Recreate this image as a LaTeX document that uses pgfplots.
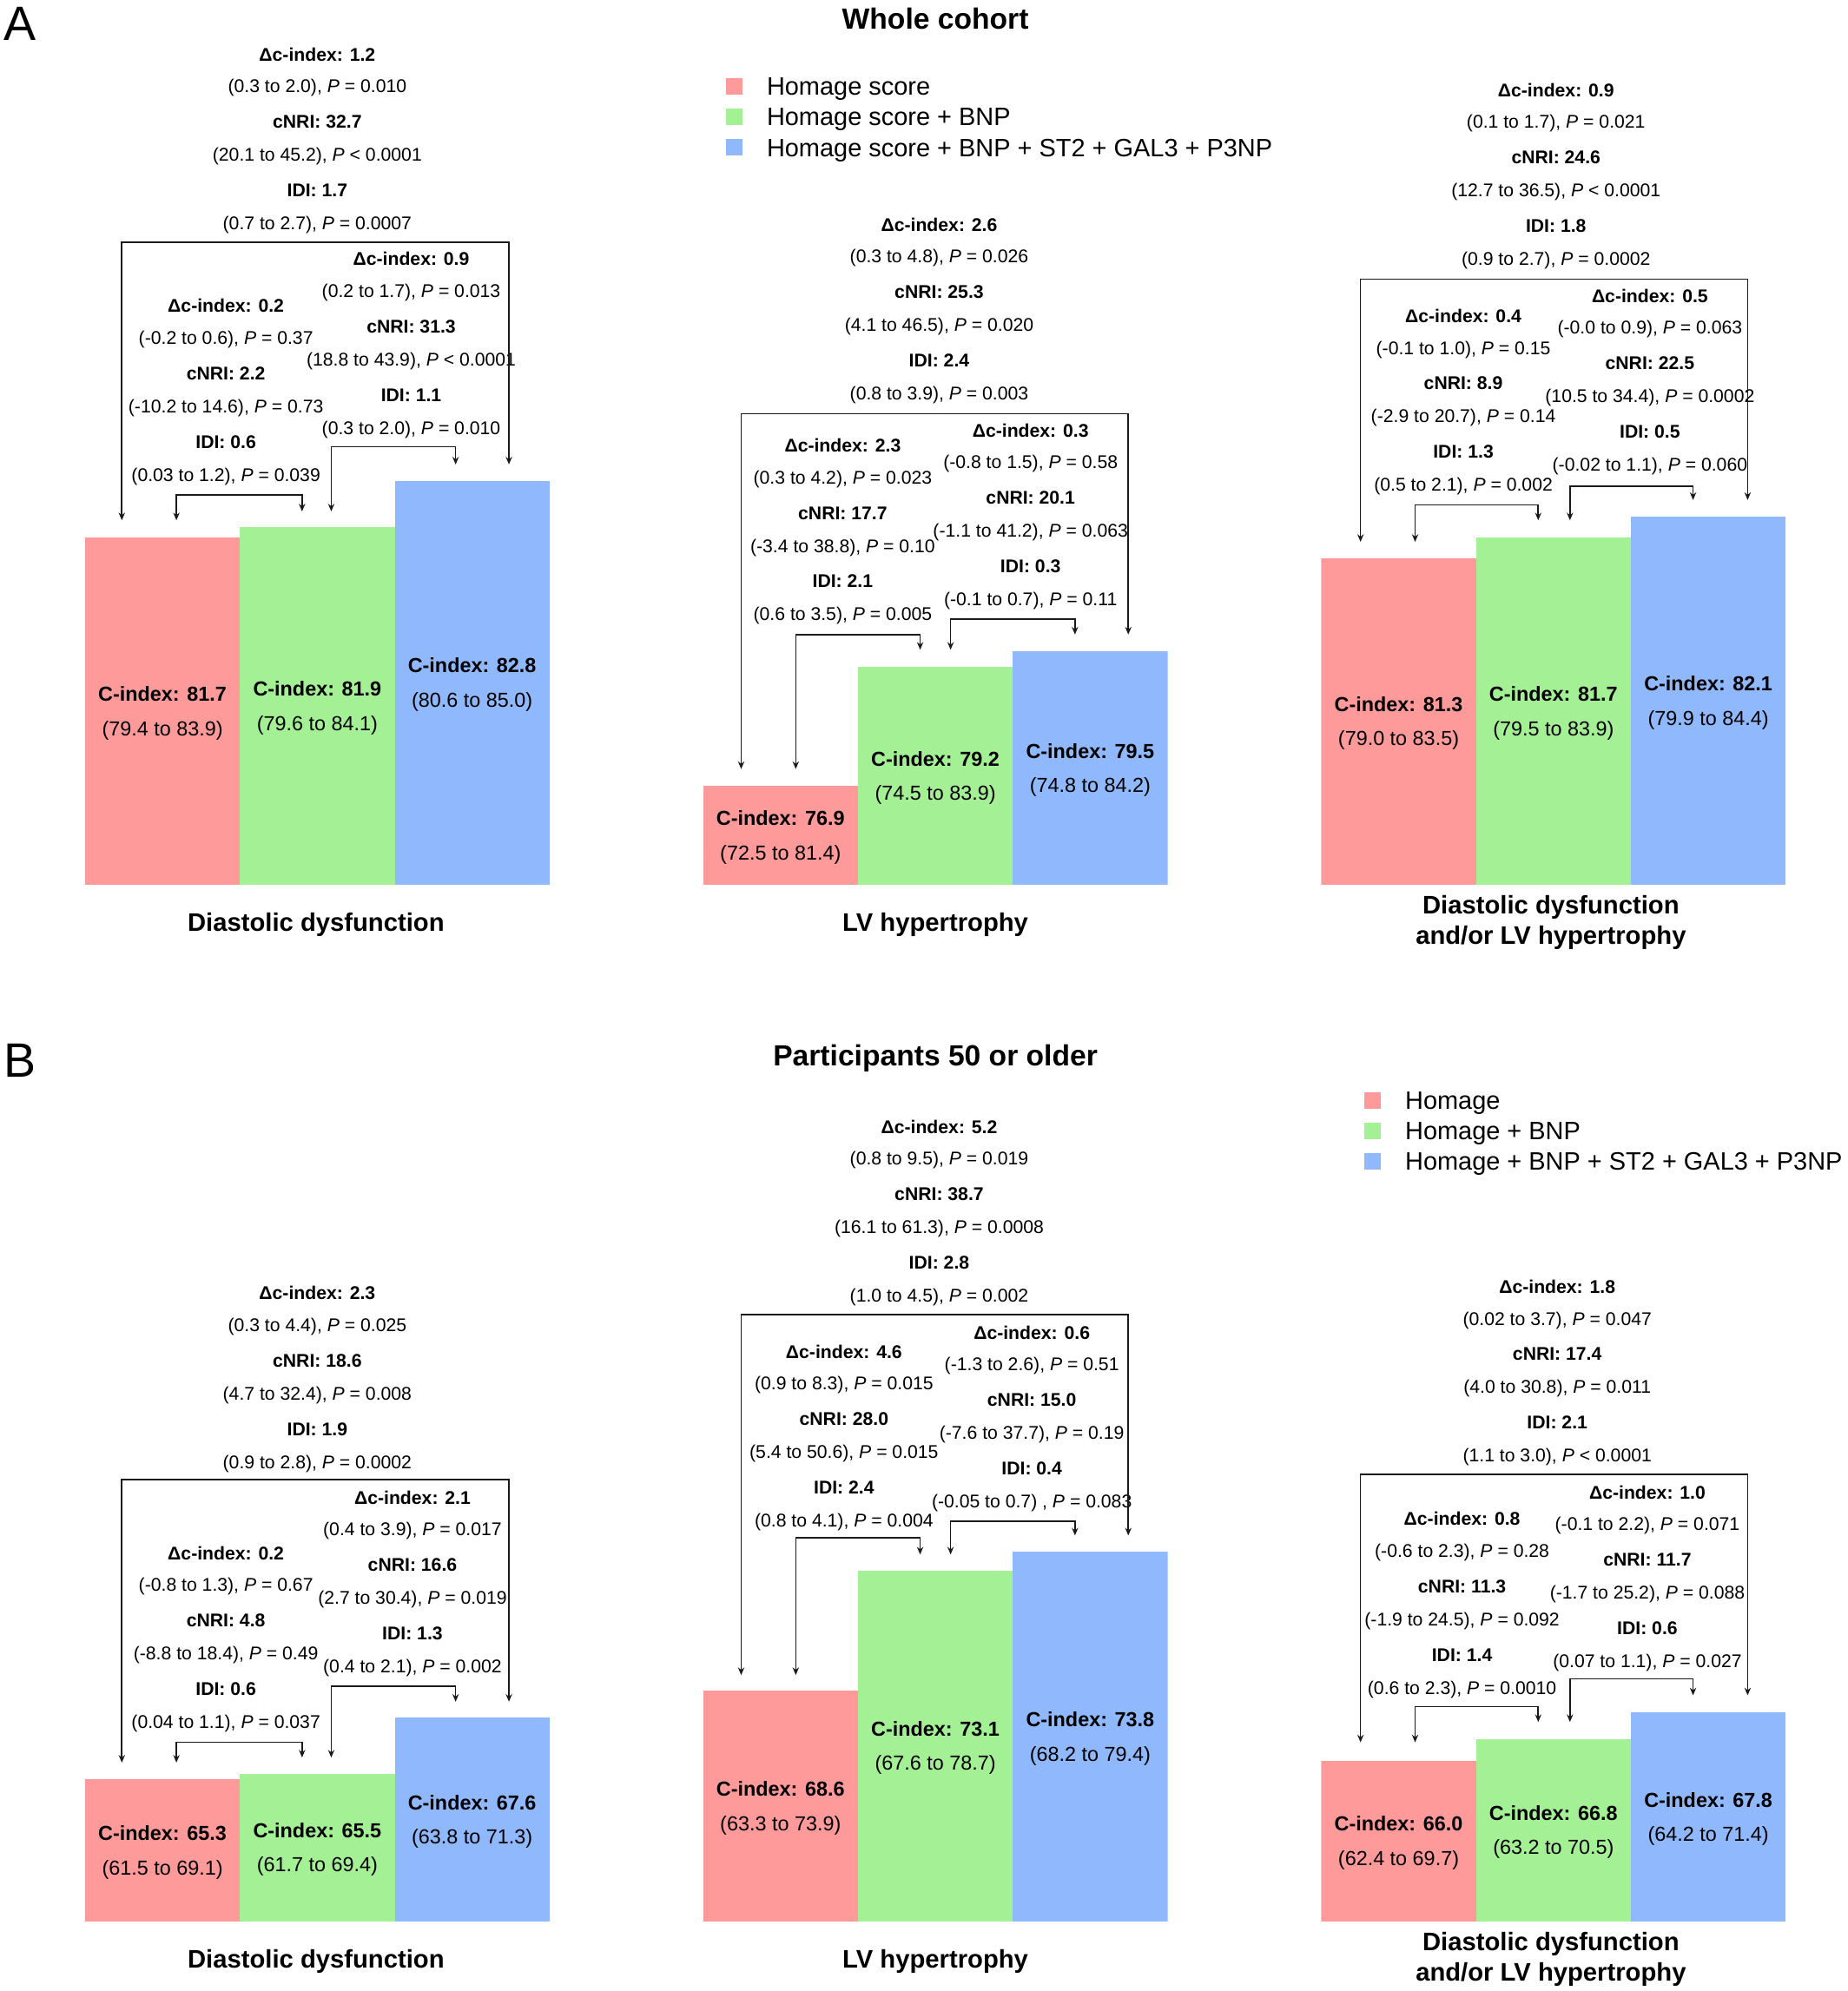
\documentclass[border=0pt]{standalone}
\usepackage{fontspec}
\setmainfont{Liberation Sans}
\usepackage{pgfplots}
\pgfplotsset{compat=1.18}
\usetikzlibrary{arrows.meta}

\definecolor{cred}{HTML}{FF9A9A}
\definecolor{cgreen}{HTML}{A3F095}
\definecolor{cblue}{HTML}{8FB8FD}
\definecolor{ink}{HTML}{1A1A1A}

\newcommand\fs{\fontsize{14.5}{17}\selectfont}
\newcommand\fc{\fontsize{16}{19}\selectfont}
\newcommand\fl{\fontsize{20}{24}\selectfont}
\newcommand\fg{\fontsize{19.8}{23}\selectfont}
\newcommand\ft{\fontsize{23}{27}\selectfont}
\newcommand\pp{\textit{P}}

\tikzset{
  t/.style={inner sep=0pt, text height=10.4pt, text depth=0pt, font=\fs},
  tb/.style={t, font=\fs\bfseries},
  brk/.style={line width=1.1pt, draw=ink, {Stealth[length=6pt,width=5pt]}-{Stealth[length=6pt,width=5pt]}},
}

% one block of statistics: x, y of first line, dc, ci, cnri, ci, idi, ci
\newcommand\stat[8]{%
  \node[tb] at (#1,#2) {Δc-index: #3};
  \node[t]  at (#1,#2+25) {#4};
  \node[tb] at (#1,#2+53) {cNRI: #5};
  \node[t]  at (#1,#2+79) {#6};
  \node[tb] at (#1,#2+107) {IDI: #7};
  \node[t]  at (#1,#2+133) {#8};}
% bracket: x1, y of bar, tip1, x2, tip2
\newcommand\brk[5]{\draw[brk] (#1,#3) -- (#1,#2) -- (#4,#2) -- (#4,#5);}
% label inside a bar: x, middle of bar, value, ci
\newcommand\cl[4]{%
  \node[inner sep=0pt, text height=11.5pt, text depth=0pt, font=\fc\bfseries, yshift=13.5pt] at (axis cs:#1,#2) {C-index: #3};
  \node[inner sep=0pt, text height=11.5pt, text depth=0pt, font=\fc, yshift=-13.5pt] at (axis cs:#1,#2) {#4};}

\pgfplotsset{
  panel/.style={anchor=south west, scale only axis, width=366pt, hide axis,
    xmin=-0.5, xmax=2.5, ybar, bar width=1, bar shift=0pt},
  leg/.style={legend style={draw=none, fill=none, inner sep=0pt, font=\fg,
      row sep=10pt, column sep=19pt, anchor=north west,
      nodes={inner sep=0pt, text height=14pt, text depth=0pt}},
    legend cell align=left,
    legend image code/.code={\fill[##1] (0pt,-6.5pt) rectangle (13pt,6.5pt);}},
}

\begin{document}
\begin{tikzpicture}
\useasboundingbox (0,0) rectangle (1456pt,-1569pt);

%% ---------------- A: whole cohort ----------------
\begin{axis}[panel, at={(67pt,-697pt)}, ymin=75, ymax=85, height=408pt]
\addplot[fill=cred,draw=none] coordinates {(0,81.7)};
\addplot[fill=cgreen,draw=none] coordinates {(1,81.9)};
\addplot[fill=cblue,draw=none] coordinates {(2,82.8)};
\cl{0}{78.35}{81.7}{(79.4 to 83.9)}
\cl{1}{78.45}{81.9}{(79.6 to 84.1)}
\cl{2}{78.9}{82.8}{(80.6 to 85.0)}
\end{axis}

\begin{axis}[panel, leg, at={(554pt,-697pt)}, ymin=75, ymax=85, height=408pt,
  legend style={at={(0.0492,1.5588)}}]
\addplot[fill=cred,draw=none] coordinates {(0,76.9)};
\addlegendentry{Homage score}
\addplot[fill=cgreen,draw=none] coordinates {(1,79.2)};
\addlegendentry{Homage score + BNP}
\addplot[fill=cblue,draw=none] coordinates {(2,79.5)};
\addlegendentry{Homage score + BNP + ST2 + GAL3 + P3NP}
\cl{0}{75.95}{76.9}{(72.5 to 81.4)}
\cl{1}{77.1}{79.2}{(74.5 to 83.9)}
\cl{2}{77.25}{79.5}{(74.8 to 84.2)}
\end{axis}

\begin{axis}[panel, at={(1041pt,-697pt)}, ymin=75, ymax=85, height=408pt]
\addplot[fill=cred,draw=none] coordinates {(0,81.3)};
\addplot[fill=cgreen,draw=none] coordinates {(1,81.7)};
\addplot[fill=cblue,draw=none] coordinates {(2,82.1)};
\cl{0}{78.15}{81.3}{(79.0 to 83.5)}
\cl{1}{78.35}{81.7}{(79.5 to 83.9)}
\cl{2}{78.55}{82.1}{(79.9 to 84.4)}
\end{axis}

%% ---------------- B: participants 50 or older ----------------
\begin{axis}[panel, at={(67pt,-1514pt)}, ymin=60, ymax=80, height=422pt]
\addplot[fill=cred,draw=none] coordinates {(0,65.3)};
\addplot[fill=cgreen,draw=none] coordinates {(1,65.5)};
\addplot[fill=cblue,draw=none] coordinates {(2,67.6)};
\cl{0}{62.65}{65.3}{(61.5 to 69.1)}
\cl{1}{62.75}{65.5}{(61.7 to 69.4)}
\cl{2}{63.8}{67.6}{(63.8 to 71.3)}
\end{axis}

\begin{axis}[panel, at={(554pt,-1514pt)}, ymin=60, ymax=80, height=422pt]
\addplot[fill=cred,draw=none] coordinates {(0,68.6)};
\addplot[fill=cgreen,draw=none] coordinates {(1,73.1)};
\addplot[fill=cblue,draw=none] coordinates {(2,73.8)};
\cl{0}{64.3}{68.6}{(63.3 to 73.9)}
\cl{1}{66.55}{73.1}{(67.6 to 78.7)}
\cl{2}{66.9}{73.8}{(68.2 to 79.4)}
\end{axis}

\begin{axis}[panel, leg, at={(1041pt,-1514pt)}, ymin=60, ymax=80, height=422pt,
  legend style={at={(0.0929,1.5498)}}]
\addplot[fill=cred,draw=none] coordinates {(0,66.0)};
\addlegendentry{Homage}
\addplot[fill=cgreen,draw=none] coordinates {(1,66.8)};
\addlegendentry{Homage + BNP}
\addplot[fill=cblue,draw=none] coordinates {(2,67.8)};
\addlegendentry{Homage + BNP + ST2 + GAL3 + P3NP}
\cl{0}{63.0}{66.0}{(62.4 to 69.7)}
\cl{1}{63.4}{66.8}{(63.2 to 70.5)}
\cl{2}{63.9}{67.8}{(64.2 to 71.4)}
\end{axis}

%% ---------------- annotations ----------------
\begin{scope}[x=1pt,y=-1pt]
\node[inner sep=0pt, text height=27.2pt, text depth=0pt, font=\fontsize{38}{40}\selectfont] at (15.5,18.5) {A};
\node[inner sep=0pt, text height=27.2pt, text depth=0pt, font=\fontsize{38}{40}\selectfont] at (15.5,835.5) {B};
\node[inner sep=0pt, text height=16.5pt, text depth=0pt, font=\ft\bfseries] at (737,15) {Whole cohort};
\node[inner sep=0pt, text height=16.5pt, text depth=0pt, font=\ft\bfseries] at (737,832) {Participants 50 or older};

\tikzset{xl/.style={inner sep=0pt, text height=14.3pt, text depth=0pt, font=\fl\bfseries}}
\node[xl] at (249,727) {Diastolic dysfunction};
\node[xl] at (737,727) {LV hypertrophy};
\node[xl] at (1222,713) {Diastolic dysfunction};
\node[xl] at (1222,737) {and/or LV hypertrophy};
\node[xl] at (249,1544) {Diastolic dysfunction};
\node[xl] at (737,1544) {LV hypertrophy};
\node[xl] at (1222,1530) {Diastolic dysfunction};
\node[xl] at (1222,1554) {and/or LV hypertrophy};

% A1
\stat{250}{43}{1.2}{(0.3 to 2.0), \pp{} = 0.010}{32.7}{(20.1 to 45.2), \pp{} < 0.0001}{1.7}{(0.7 to 2.7), \pp{} = 0.0007}
\stat{178}{241}{0.2}{(-0.2 to 0.6), \pp{} = 0.37}{2.2}{(-10.2 to 14.6), \pp{} = 0.73}{0.6}{(0.03 to 1.2), \pp{} = 0.039}
\stat{324}{204}{0.9}{(0.2 to 1.7), \pp{} = 0.013}{31.3}{(18.8 to 43.9), \pp{} < 0.0001}{1.1}{(0.3 to 2.0), \pp{} = 0.010}
\brk{96}{191}{410}{401}{366}
\brk{139}{390}{410}{238}{403}
\brk{261}{352}{403}{359}{366}
% A2
\stat{740}{177}{2.6}{(0.3 to 4.8), \pp{} = 0.026}{25.3}{(4.1 to 46.5), \pp{} = 0.020}{2.4}{(0.8 to 3.9), \pp{} = 0.003}
\stat{664}{351}{2.3}{(0.3 to 4.2), \pp{} = 0.023}{17.7}{(-3.4 to 38.8), \pp{} = 0.10}{2.1}{(0.6 to 3.5), \pp{} = 0.005}
\stat{812}{339}{0.3}{(-0.8 to 1.5), \pp{} = 0.58}{20.1}{(-1.1 to 41.2), \pp{} = 0.063}{0.3}{(-0.1 to 0.7), \pp{} = 0.11}
\brk{584}{326}{606}{889}{500}
\brk{627}{500}{606}{725}{512}
\brk{749}{488}{512}{847}{500}
% A3
\stat{1226}{71}{0.9}{(0.1 to 1.7), \pp{} = 0.021}{24.6}{(12.7 to 36.5), \pp{} < 0.0001}{1.8}{(0.9 to 2.7), \pp{} = 0.0002}
\stat{1153}{249}{0.4}{(-0.1 to 1.0), \pp{} = 0.15}{8.9}{(-2.9 to 20.7), \pp{} = 0.14}{1.3}{(0.5 to 2.1), \pp{} = 0.002}
\stat{1300}{233}{0.5}{(-0.0 to 0.9), \pp{} = 0.063}{22.5}{(10.5 to 34.4), \pp{} = 0.0002}{0.5}{(-0.02 to 1.1), \pp{} = 0.060}
\brk{1072}{220}{427}{1377}{394}
\brk{1115}{398}{427}{1212}{410}
\brk{1237}{383}{410}{1334}{394}
% B1
\stat{250}{1019}{2.3}{(0.3 to 4.4), \pp{} = 0.025}{18.6}{(4.7 to 32.4), \pp{} = 0.008}{1.9}{(0.9 to 2.8), \pp{} = 0.0002}
\stat{178}{1224}{0.2}{(-0.8 to 1.3), \pp{} = 0.67}{4.8}{(-8.8 to 18.4), \pp{} = 0.49}{0.6}{(0.04 to 1.1), \pp{} = 0.037}
\stat{325}{1180}{2.1}{(0.4 to 3.9), \pp{} = 0.017}{16.6}{(2.7 to 30.4), \pp{} = 0.019}{1.3}{(0.4 to 2.1), \pp{} = 0.002}
\brk{96}{1166}{1389}{401}{1341}
\brk{139}{1373}{1389}{238}{1385}
\brk{261}{1329}{1385}{359}{1341}
% B2
\stat{740}{888}{5.2}{(0.8 to 9.5), \pp{} = 0.019}{38.7}{(16.1 to 61.3), \pp{} = 0.0008}{2.8}{(1.0 to 4.5), \pp{} = 0.002}
\stat{665}{1065}{4.6}{(0.9 to 8.3), \pp{} = 0.015}{28.0}{(5.4 to 50.6), \pp{} = 0.015}{2.4}{(0.8 to 4.1), \pp{} = 0.004}
\stat{813}{1050}{0.6}{(-1.3 to 2.6), \pp{} = 0.51}{15.0}{(-7.6 to 37.7), \pp{} = 0.19}{0.4}{(-0.05 to 0.7) , \pp{} = 0.083}
\brk{584}{1036}{1320}{889}{1210}
\brk{627}{1212}{1320}{725}{1225}
\brk{749}{1199}{1225}{847}{1210}
% B3
\stat{1227}{1014}{1.8}{(0.02 to 3.7), \pp{} = 0.047}{17.4}{(4.0 to 30.8), \pp{} = 0.011}{2.1}{(1.1 to 3.0), \pp{} < 0.0001}
\stat{1152}{1197}{0.8}{(-0.6 to 2.3), \pp{} = 0.28}{11.3}{(-1.9 to 24.5), \pp{} = 0.092}{1.4}{(0.6 to 2.3), \pp{} = 0.0010}
\stat{1298}{1176}{1.0}{(-0.1 to 2.2), \pp{} = 0.071}{11.7}{(-1.7 to 25.2), \pp{} = 0.088}{0.6}{(0.07 to 1.1), \pp{} = 0.027}
\brk{1072}{1162}{1373}{1377}{1336}
\brk{1115}{1345}{1373}{1212}{1357}
\brk{1237}{1323}{1357}{1334}{1336}
\end{scope}
\end{tikzpicture}
\end{document}
